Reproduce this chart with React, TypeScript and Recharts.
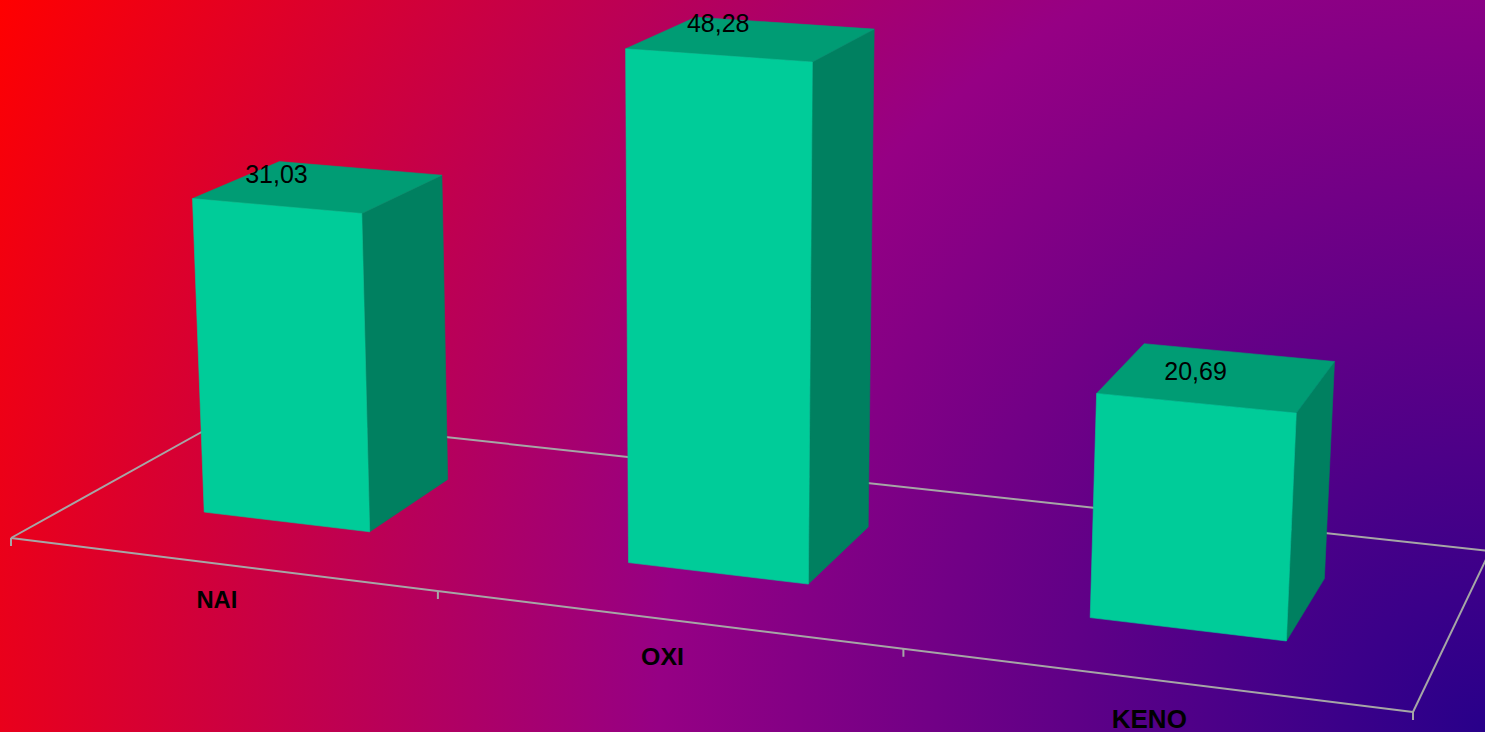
import { BarChart, Bar, XAxis, YAxis, LabelList } from "recharts";

// chart data
const categories = ["NAI", "OXI", "KENO"];
const values = [31.03, 48.28, 20.69];

const data = categories.map((name, i) => ({ name, value: values[i] }));

const W = 1485;
const H = 732;
const Y_MAX = 60;

// 3D look: floor quad on screen (front-left, front-right, back-right, back-left),
// vanishing point of the verticals and the lift per value unit
const FLOOR = [
  [11, 538],
  [1413, 712],
  [1490, 551],
  [234, 414],
];
const VERT_VP = [705, 14000];
const LIFT = -7.5e-4;
const DEPTH = [0.3, 0.7];

const FRONT = "#00CC99";
const TOP = "#009C74";
const SIDE = "#008060";
const GRID = "#a6a6a6";
const FONT = "'Liberation Sans', Arial, sans-serif";

// unit square -> quad homography
function squareToQuad(q: number[][]) {
  const [[x0, y0], [x1, y1], [x2, y2], [x3, y3]] = q;
  const dx1 = x1 - x2, dx2 = x3 - x2, dx3 = x0 - x1 + x2 - x3;
  const dy1 = y1 - y2, dy2 = y3 - y2, dy3 = y0 - y1 + y2 - y3;
  const den = dx1 * dy2 - dx2 * dy1;
  const g = (dx3 * dy2 - dx2 * dy3) / den;
  const h = (dx1 * dy3 - dx3 * dy1) / den;
  return {
    a: x1 - x0 + g * x1,
    b: x3 - x0 + h * x3,
    c: x0,
    d: y1 - y0 + g * y1,
    e: y3 - y0 + h * y3,
    f: y0,
    g,
    h,
  };
}

const M = squareToQuad(FLOOR);

// u: 0..1 along the category axis, v: 0..1 front to back, y: value units
function project(u: number, v: number, y: number) {
  const k = LIFT * y;
  const w = M.g * u + M.h * v + 1 + k;
  return [
    (M.a * u + M.b * v + M.c + k * VERT_VP[0]) / w,
    (M.d * u + M.e * v + M.f + k * VERT_VP[1]) / w,
  ];
}

const depthScale = (u: number, v: number) => M.g * u + M.h * v + 1;

const pts = (list: number[][]) =>
  list
    .map(([u, v, y]) => project(u, v, y).map((n) => n.toFixed(1)).join(","))
    .join(" ");

function Box3D(props: any) {
  const { x, width, height } = props;
  if (!height || height <= 0) return null;
  const u0 = x / W;
  const u1 = (x + width) / W;
  const val = (height / H) * Y_MAX;
  const [z0, z1] = DEPTH;
  return (
    <g>
      <polygon
        points={pts([[u1, z0, 0], [u1, z1, 0], [u1, z1, val], [u1, z0, val]])}
        fill={SIDE}
        stroke={SIDE}
        strokeWidth={0.6}
      />
      <polygon
        points={pts([[u0, z0, val], [u1, z0, val], [u1, z1, val], [u0, z1, val]])}
        fill={TOP}
        stroke={TOP}
        strokeWidth={0.6}
      />
      <polygon
        points={pts([[u0, z0, 0], [u1, z0, 0], [u1, z0, val], [u0, z0, val]])}
        fill={FRONT}
        stroke={FRONT}
        strokeWidth={0.6}
      />
    </g>
  );
}

// floor, ticks and category names, drawn once under the bars
function Floor(props: any) {
  const idx = props.index ?? categories.indexOf(props.payload?.name);
  if (idx !== 0) return null;
  const n = categories.length;
  const line = (a: number[], b: number[], key: string) => (
    <line
      key={key}
      x1={a[0]}
      y1={a[1]}
      x2={b[0]}
      y2={b[1]}
      stroke={GRID}
      strokeWidth={2}
    />
  );
  const fl = project(0, 0, 0);
  const fr = project(1, 0, 0);
  const bl = project(0, 1, 0);
  const br = project(1, 1, 0);
  const ticks = Array.from({ length: n + 1 }, (_, i) => {
    const p = project(i / n, 0, 0);
    return line(p, [p[0], p[1] + 8], `t${i}`);
  });
  const names = categories.map((name, i) => {
    const u = (i + 0.5) / n;
    const [px, py] = project(u, 0, 0);
    const s = depthScale(u, 0);
    return (
      <text
        key={name}
        x={px - 3}
        y={py + 43 / s}
        textAnchor="middle"
        fontFamily={FONT}
        fontWeight="bold"
        fontSize={23.3 / s}
        fill="#000"
      >
        {name}
      </text>
    );
  });
  return (
    <g>
      {line(fl, fr, "front")}
      {line(bl, br, "back")}
      {line(fl, bl, "left")}
      {line(fr, br, "right")}
      {ticks}
      {names}
    </g>
  );
}

function ValueLabel(props: any) {
  const vb = props.viewBox ?? props;
  const { x, width, height } = vb;
  if (x == null) return null;
  const u = (x + width / 2) / W;
  const val = (height / H) * Y_MAX;
  const [px, py] = project(u, DEPTH[0], val);
  return (
    <text
      x={px}
      y={py - 23}
      textAnchor="middle"
      fontFamily={FONT}
      fontSize={25}
      fill="#000"
    >
      {Number(props.value).toFixed(2).replace(".", ",")}
    </text>
  );
}

export default function App() {
  return (
    <div
      style={{
        position: "absolute",
        left: 0,
        top: 0,
        width: W,
        height: H,
        overflow: "hidden",
        background:
          "radial-gradient(circle 1656px at 100% 100%, #28008A 0%, #960084 50%, #FF0000 100%)",
      }}
    >
      <BarChart
        width={W}
        height={H}
        data={data}
        margin={{ top: 0, right: 0, left: 0, bottom: 0 }}
        barCategoryGap="30%"
      >
        <XAxis dataKey="name" hide />
        <YAxis hide domain={[0, Y_MAX]} />
        <Bar
          dataKey="value"
          isAnimationActive={false}
          shape={<Box3D />}
          background={<Floor />}
        >
          <LabelList dataKey="value" content={<ValueLabel />} />
        </Bar>
      </BarChart>
    </div>
  );
}
